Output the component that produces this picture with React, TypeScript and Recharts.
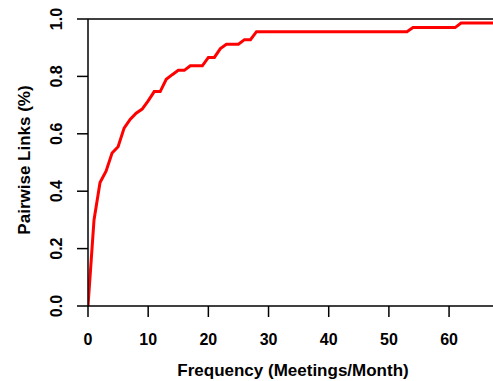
import { LineChart, Line, XAxis, YAxis, ReferenceLine } from "recharts"

// meetings per month (x) and cumulative share of pairwise links (y)
const freq = [
    0, 1, 2, 3, 4, 5, 6, 7, 8, 9,
    10, 11, 12, 13, 14, 15, 16, 17, 18, 19,
    20, 21, 22, 23, 24, 25, 26, 27, 28, 29,
    30, 31, 32, 33, 34, 35, 36, 37, 38, 39,
    40, 41, 42, 43, 44, 45, 46, 47, 48, 49,
    50, 51, 52, 53, 54, 55, 56, 57, 58, 59,
    60, 61, 62, 63, 64, 65, 66, 67, 68,
]

const links = [
    0, 0.3, 0.43, 0.47, 0.533, 0.555, 0.62, 0.65, 0.672, 0.686,
    0.715, 0.747, 0.747, 0.79, 0.806, 0.821, 0.821, 0.837, 0.837, 0.837,
    0.866, 0.866, 0.897, 0.912, 0.912, 0.912, 0.928, 0.928, 0.956, 0.956,
    0.956, 0.956, 0.956, 0.956, 0.956, 0.956, 0.956, 0.956, 0.956, 0.956,
    0.956, 0.956, 0.956, 0.956, 0.956, 0.956, 0.956, 0.956, 0.956, 0.956,
    0.956, 0.956, 0.956, 0.956, 0.97, 0.97, 0.97, 0.97, 0.97, 0.97,
    0.97, 0.97, 0.986, 0.986, 0.986, 0.986, 0.986, 0.986, 0.986,
]

const xTicks = [0, 10, 20, 30, 40, 50, 60]
const yTicks = [0, 0.2, 0.4, 0.6, 0.8, 1.0]

const data = freq.map((f, i) => ({ freq: f, links: links[i] }))

const FONT = "'Liberation Sans', Arial, sans-serif"

function XTick(props: any) {
    return (
        <text x={props.x} y={345} textAnchor="middle" fontFamily={FONT} fontWeight="bold" fontSize={16} fill="#000">
            {props.payload.value}
        </text>
    )
}

function YTick(props: any) {
    const y = props.y
    return (
        <text x={62} y={y} transform={`rotate(-90, 62, ${y})`} textAnchor="middle" fontFamily={FONT} fontWeight="bold" fontSize={16} fill="#000">
            {Number(props.payload.value).toFixed(1)}
        </text>
    )
}

export default function App() {

    return (

        <div style={{ position: "absolute", left: 0, top: 0, width: 493, height: 381, background: "#fff" }}>

            <LineChart width={493} height={381} data={data} margin={{ top: 19, right: 0, left: 0, bottom: 0 }}>

                <XAxis
                    dataKey="freq"
                    type="number"
                    domain={[0, 67.3]}
                    allowDataOverflow
                    ticks={xTicks}
                    tickSize={11}
                    height={75}
                    stroke="#000"
                    strokeWidth={1.5}
                    tick={<XTick />}
                    label={{
                        content: () => (
                            <text x={293} y={376} textAnchor="middle" fontFamily={FONT} fontWeight="bold" fontSize={17} fill="#000">
                                Frequency (Meetings/Month)
                            </text>
                        ),
                    }}
                />

                <YAxis
                    type="number"
                    domain={[0, 1]}
                    ticks={yTicks}
                    tickSize={11}
                    width={88}
                    stroke="#000"
                    strokeWidth={1.5}
                    tick={<YTick />}
                    label={{
                        content: () => (
                            <text x={30} y={160} transform="rotate(-90, 30, 160)" textAnchor="middle" fontFamily={FONT} fontWeight="bold" fontSize={17} fill="#000">
                                Pairwise Links (%)
                            </text>
                        ),
                    }}
                />

                <ReferenceLine y={1} stroke="#000" strokeWidth={1.5} />

                <Line
                    type="linear"
                    dataKey="links"
                    stroke="#ff0000"
                    strokeWidth={3}
                    dot={false}
                    isAnimationActive={false}
                />

            </LineChart>

        </div>

    )

}
